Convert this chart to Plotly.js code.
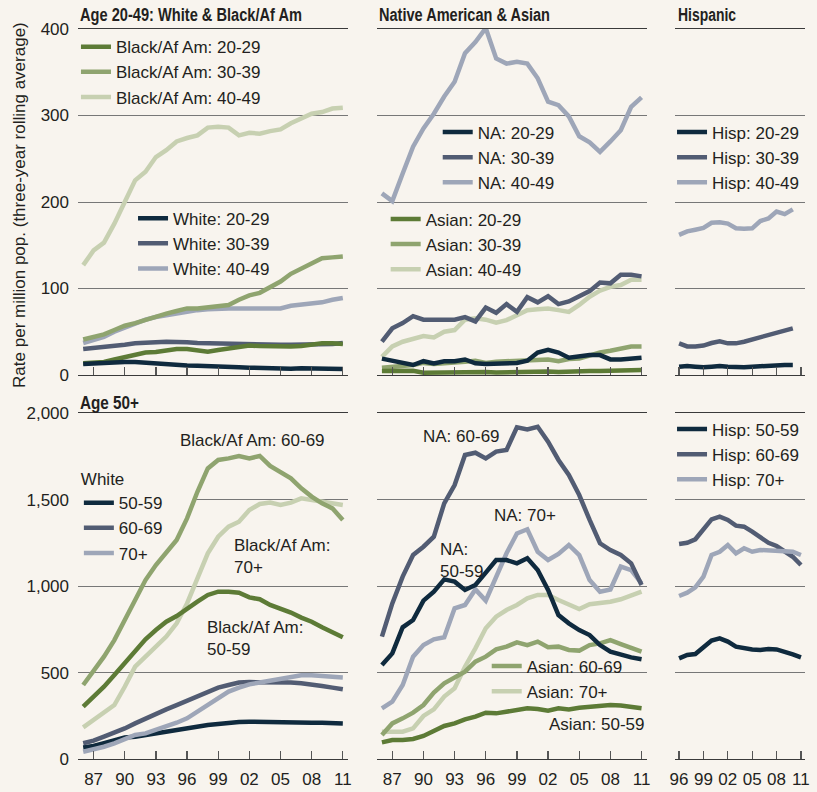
<!DOCTYPE html>
<html>
<head>
<meta charset="utf-8">
<script src="https://cdn.plot.ly/plotly-3.0.1.min.js"></script>
<style>
html,body{margin:0;padding:0;background:#f8f4ee;}
#chart{width:817px;height:792px;}
</style>
</head>
<body>
<div id="chart"></div>
<script>
// ---------- DATA ----------
const years = [1986,1987,1988,1989,1990,1991,1992,1993,1994,1995,1996,1997,1998,1999,2000,2001,2002,2003,2004,2005,2006,2007,2008,2009,2010,2011];
const hispYearsTop = [1996,1997,1998,1999,2000,2001,2002,2003,2004,2005,2006,2007,2008,2009,2010];
const hispYearsBottom = [1996,1997,1998,1999,2000,2001,2002,2003,2004,2005,2006,2007,2008,2009,2010,2011];

const tickYearsMain = [1987,1990,1993,1996,1999,2002,2005,2008,2011];
const tickLabelsMain = ['87','90','93','96','99','02','05','08','11'];
const tickYearsHisp = [1996,1999,2002,2005,2008,2011];
const tickLabelsHisp = ['96','99','02','05','08','11'];

// Age 20-49: White & Black/Af Am
const black2029 = [13.5,14,15,18,21,24,26,26.5,28,30,30,28,27,29,31,33,34,33.5,33,33,33,33.5,35,36.6,36.6,36];
const black3039 = [41,43.5,47,52,57,60,64,67,71,74,77,77,78,79,81,87,92,95,101,108,117,123,130,135,136,137];
const black4049 = [127,144,153,175,200,225,235,252,260,270,274,277,286,287,286,277,280,279,282,284,291,297,302,304,308,309];
const white2029 = [12.7,13.5,14,14.6,15,15,14,13.5,12.7,12,11,10.8,10,9.6,9.2,8.9,8.5,8,7.3,7.3,7.3,7.7,7.7,7.7,7.3,7];
const white3039 = [30,31,32,33.5,35,36.6,37.8,38,38.5,38.5,38,37,36.6,36.6,36,36,35.5,35,35,35,35,35,35,35.5,36,37];
const white4049 = [37,40,44,50,55,60,64,67,69,72,74,75,76,77,77,77,77,76,76,77,80,81,83,84,87,89];

// Native American & Asian, 20-49
const na2029 = [19,16.5,14.6,11.6,16,13.5,16,16,18,13.5,12.7,13.5,14,14,16.5,26,29,26,20,22,23,23,18,18,18.5,20];
const na3039 = [38.5,54,60,68,64,64,64,64,67,62,78,72,82,73,90,84,91,82,85,91,97,107,106,116,116,114];
const na4049 = [210,201,233,264,285,302,322,339,372,385,401,366,360,362,360,343,316,312,299,276,269,258,270,283,310,321];
const asian2029 = [4.6,5,5.8,5,2.7,3,3,3,3.5,3.5,3.5,3,3.5,3.9,4.2,3.9,4.2,3.5,4.2,4.6,4.6,4.6,5,5.4,5.8,5.8];
const asian3039 = [8.5,9.6,10.4,11.6,14,12.7,13.5,14,15.4,16.5,14,15.4,16,16.5,17,18,18,16,18.5,19,23,26,28,31,33,33];
const asian4049 = [21,33,38.5,42,45,43.5,50,52,64,65.5,64,60.5,63.5,69,75,76,77,75,73,81,90.5,97.5,102,104,110,110];

// Hispanic, 20-49 (1996-2010)
const hisp2029 = [9.6,10.4,9.6,8.9,9.6,10.4,9.6,8.9,8.9,9.6,10.4,11,12,11.6,11.6];
const hisp3039 = [36.6,33,33,34,37,39,36.6,36.6,38.5,41,43.5,45.5,48,51,54];
const hisp4049 = [162,166,168,170,176,176.5,175,169.6,169,169.6,178,181,189,186,191.5];

// Age 50+: White & Black/Af Am
const black5059 = [303,361,418,486,553,621,692,746,794,827,872,910,949,968,968,962,935,924,891,872,847,818,794,762,731,704];
const black6069 = [428,505,592,688,804,920,1035,1122,1190,1267,1392,1546,1681,1730,1739,1753,1739,1753,1695,1662,1624,1566,1518,1479,1450,1383];
const black70p = [183,226,264,312,418,534,592,650,708,785,900,1045,1190,1286,1344,1373,1440,1475,1483,1469,1483,1508,1498,1489,1479,1469];
const white5059 = [67,75,91,106,125,129,139,145,158,168,177,183,197,202,210,214,216,214,212,212,212,212,210,210,208,206];
const white6069 = [91,106,129,152,177,206,235,264,287,312,337,364,390,413,428,442,445,445,445,442,442,438,432,422,413,403];
const white70p = [42,56,71,91,116,139,148,168,191,210,235,274,312,351,390,413,432,442,453,461,476,484,484,480,476,472];

// Native American & Asian, 50+
const na5059 = [544,611,762,804,916,968,1039,1026,978,1007,1078,1151,1151,1132,1161,1093,978,833,785,746,717,659,621,602,588,577];
const na6069 = [708,900,1055,1180,1228,1286,1479,1585,1759,1772,1739,1778,1788,1919,1907,1922,1836,1730,1643,1527,1383,1248,1209,1180,1132,1007];
const na70p = [293,332,428,592,659,692,704,872,891,981,916,1055,1190,1305,1329,1199,1151,1186,1238,1180,1035,968,981,1113,1093,1016];
const asian5059 = [96,110,110,116,133,164,191,206,229,245,268,264,274,280,293,289,280,293,287,297,303,312,312,309,303,293];
const asian6069 = [139,206,235,268,312,384,438,472,505,563,592,634,650,675,659,679,646,650,631,627,659,669,688,665,646,621];
const asian70p = [158,158,158,177,249,287,361,409,534,640,756,823,862,891,929,949,949,920,891,868,895,900,910,924,943,968];

// Hispanic, 50+ (1996-2011)
const hisp5059 = [582,602,607,650,685,698,679,650,640,634,631,636,634,621,605,588];
const hisp6069 = [1244,1251,1271,1325,1386,1402,1383,1350,1344,1315,1286,1251,1232,1203,1170,1122];
const hisp70p = [943,962,993,1055,1180,1199,1238,1190,1219,1199,1209,1205,1205,1199,1199,1180];

// ---------- STYLE ----------
const C = {
  navy:'#0f2a3e', slate:'#525c73', lslate:'#9ea6b8',
  dgreen:'#5d7b36', mgreen:'#8fa46f', lgreen:'#c7d0b1'
};
const BG = '#f8f4ee';
const TXT = '#231f20';
const FONT = '"Liberation Sans", Arial, sans-serif';
const LW = 4.5;

function tr(x, y, name, color, xa, ya, legend, show) {
  return {
    type:'scatter', mode:'lines', x:x, y:y, name:name,
    xaxis:xa, yaxis:ya,
    line:{color:color, width:LW},
    legend:legend || 'legend',
    showlegend: show !== false,
    hoverinfo:'skip'
  };
}

const data = [
  // top panel 1
  tr(years, white3039, 'White: 30-39', C.slate, 'x', 'y', 'legend2'),
  tr(years, white4049, 'White: 40-49', C.lslate, 'x', 'y', 'legend2'),
  tr(years, black4049, 'Black/Af Am: 40-49', C.lgreen, 'x', 'y', 'legend'),
  tr(years, black3039, 'Black/Af Am: 30-39', C.mgreen, 'x', 'y', 'legend'),
  tr(years, black2029, 'Black/Af Am: 20-29', C.dgreen, 'x', 'y', 'legend'),
  tr(years, white2029, 'White: 20-29', C.navy, 'x', 'y', 'legend2'),
  // top panel 2
  tr(years, na4049, 'NA: 40-49', C.lslate, 'x2', 'y2', 'legend3'),
  tr(years, asian4049, 'Asian: 40-49', C.lgreen, 'x2', 'y2', 'legend4'),
  tr(years, na3039, 'NA: 30-39', C.slate, 'x2', 'y2', 'legend3'),
  tr(years, asian3039, 'Asian: 30-39', C.mgreen, 'x2', 'y2', 'legend4'),
  tr(years, na2029, 'NA: 20-29', C.navy, 'x2', 'y2', 'legend3'),
  tr(years, asian2029, 'Asian: 20-29', C.dgreen, 'x2', 'y2', 'legend4'),
  // top panel 3
  tr(hispYearsTop, hisp2029, 'Hisp: 20-29', C.navy, 'x3', 'y3', 'legend5'),
  tr(hispYearsTop, hisp3039, 'Hisp: 30-39', C.slate, 'x3', 'y3', 'legend5'),
  tr(hispYearsTop, hisp4049, 'Hisp: 40-49', C.lslate, 'x3', 'y3', 'legend5'),
  // bottom panel 1
  tr(years, black70p, 'Black/Af Am: 70+', C.lgreen, 'x4', 'y4', 'legend', false),
  tr(years, black6069, 'Black/Af Am: 60-69', C.mgreen, 'x4', 'y4', 'legend', false),
  tr(years, black5059, 'Black/Af Am: 50-59', C.dgreen, 'x4', 'y4', 'legend', false),
  tr(years, white5059, '50-59', C.navy, 'x4', 'y4', 'legend6'),
  tr(years, white6069, '60-69', C.slate, 'x4', 'y4', 'legend6'),
  tr(years, white70p, '70+', C.lslate, 'x4', 'y4', 'legend6'),
  // bottom panel 2
  tr(years, asian70p, 'Asian: 70+', C.lgreen, 'x5', 'y5', 'legend7'),
  tr(years, asian6069, 'Asian: 60-69', C.mgreen, 'x5', 'y5', 'legend7'),
  tr(years, asian5059, 'Asian: 50-59', C.dgreen, 'x5', 'y5', 'legend', false),
  tr(years, na70p, 'NA: 70+', C.lslate, 'x5', 'y5', 'legend', false),
  tr(years, na6069, 'NA: 60-69', C.slate, 'x5', 'y5', 'legend', false),
  tr(years, na5059, 'NA: 50-59', C.navy, 'x5', 'y5', 'legend', false),
  // bottom panel 3
  tr(hispYearsBottom, hisp5059, 'Hisp: 50-59', C.navy, 'x6', 'y6', 'legend8'),
  tr(hispYearsBottom, hisp6069, 'Hisp: 60-69', C.slate, 'x6', 'y6', 'legend8'),
  tr(hispYearsBottom, hisp70p, 'Hisp: 70+', C.lslate, 'x6', 'y6', 'legend8')
];

// legend entry order follows the reference
const rankMap = {
  'Black/Af Am: 20-29':1,'Black/Af Am: 30-39':2,'Black/Af Am: 40-49':3,
  'White: 20-29':1,'White: 30-39':2,'White: 40-49':3,
  'NA: 20-29':1,'NA: 30-39':2,'NA: 40-49':3,
  'Asian: 20-29':1,'Asian: 30-39':2,'Asian: 40-49':3,
  'Hisp: 20-29':1,'Hisp: 30-39':2,'Hisp: 40-49':3,
  '50-59':1,'60-69':2,'70+':3,
  'Asian: 60-69':1,'Asian: 70+':2,
  'Hisp: 50-59':1,'Hisp: 60-69':2,'Hisp: 70+':3
};
data.forEach(d => { if (rankMap[d.name]) d.legendrank = rankMap[d.name]; });

// ---------- LAYOUT ----------
const DX1 = [0, 0.3714], DX2 = [0.4109, 0.7823], DX3 = [0.8212, 1];
const DYT = [0.526, 1], DYB = [0, 0.4736];

function xax(domain, anchor, range, tv, tt, labels) {
  return {
    domain:domain, anchor:anchor, range:range,
    tickmode:'array', tickvals:tv, ticktext:tt,
    showticklabels:labels, ticks:'inside', ticklen:8, tickwidth:1.3, tickcolor:'#555',
    showline:true, mirror:true, linecolor:'#3a3a3a', linewidth:1.3,
    showgrid:false, zeroline:false, fixedrange:true,
    tickfont:{family:FONT, size:17, color:TXT}, ticklabelstandoff:4
  };
}
function yax(domain, anchor, range, dtick, labels) {
  return {
    domain:domain, anchor:anchor, range:range, dtick:dtick, tick0:0,
    showticklabels:labels, ticks:'', showline:false, zeroline:false,
    showgrid:true, gridcolor:'#777', gridwidth:1,
    separatethousands:true, fixedrange:true,
    tickfont:{family:FONT, size:17, color:TXT}, ticklabelstandoff:8
  };
}
function leg(x, y, extra) {
  return Object.assign({
    x:x, y:y, xanchor:'left', yanchor:'top', orientation:'v',
    bgcolor:'rgba(0,0,0,0)', borderwidth:0,
    font:{family:FONT, size:17, color:TXT},
    traceorder:'normal', itemclick:false, itemdoubleclick:false
  }, extra || {});
}
function ann(text, x, y, xref, yref, xanchor, extra) {
  return Object.assign({
    text:text, x:x, y:y, xref:xref, yref:yref, xanchor:xanchor, yanchor:'middle',
    showarrow:false, align:'left', font:{family:FONT, size:17, color:TXT}
  }, extra || {});
}
const TITLEFONT = {family:FONT, size:18, color:TXT};

const layout = {
  width:817, height:792,
  margin:{l:78, r:12, t:29, b:33},
  paper_bgcolor:BG, plot_bgcolor:BG,
  font:{family:FONT, color:TXT},
  xaxis: xax(DX1,'y',[1985.5,2011.5],tickYearsMain,tickLabelsMain,false),
  xaxis2:xax(DX2,'y2',[1985.5,2011.5],tickYearsMain,tickLabelsMain,false),
  xaxis3:xax(DX3,'y3',[1995.5,2011.5],tickYearsHisp,tickLabelsHisp,false),
  xaxis4:xax(DX1,'y4',[1985.5,2011.5],tickYearsMain,tickLabelsMain,true),
  xaxis5:xax(DX2,'y5',[1985.5,2011.5],tickYearsMain,tickLabelsMain,true),
  xaxis6:xax(DX3,'y6',[1995.5,2011.5],tickYearsHisp,tickLabelsHisp,true),
  yaxis: yax(DYT,'x',[0,400],100,true),
  yaxis2:yax(DYT,'x2',[0,400],100,false),
  yaxis3:yax(DYT,'x3',[0,400],100,false),
  yaxis4:yax(DYB,'x4',[0,2000],500,true),
  yaxis5:yax(DYB,'x5',[0,2000],500,false),
  yaxis6:yax(DYB,'x6',[0,2000],500,false),
  legend:  leg(-0.0028, 0.9998),
  legend2: leg(0.0757, 0.7648),
  legend3: leg(0.4948, 0.8828),
  legend4: leg(0.4232, 0.7638),
  legend5: leg(0.8171, 0.8828),
  legend6: leg(0.0012, 0.4054, {title:{text:'White', side:'top', font:{family:FONT, size:17, color:TXT}}}),
  legend7: leg(0.5622, 0.1513),
  legend8: leg(0.8171, 0.476),
  shapes:[
    // the White legend box hides the 1,500 grid line behind it
    {type:'rect', xref:'x4', yref:'y4', x0:1985.5, x1:1996.8, y0:1450, y1:1550,
     fillcolor:BG, line:{width:0}, layer:'between'}
  ],
  annotations:[
    ann('<b>Age 20-49: White &amp; Black/Af Am</b>', 0, 1.019, 'paper', 'paper', 'left', {font:TITLEFONT}),
    ann('<b>Native American &amp; Asian</b>', 0.4113, 1.019, 'paper', 'paper', 'left', {font:TITLEFONT}),
    ann('<b>Hispanic</b>', 0.8226, 1.019, 'paper', 'paper', 'left', {font:TITLEFONT}),
    ann('<b>Age 50+</b>', 0, 0.4877, 'paper', 'paper', 'left', {font:TITLEFONT}),
    ann('Rate per million pop. (three-year rolling average)', -0.0798, 0.759, 'paper', 'paper', 'center', {textangle:-90, font:{family:FONT, size:17, color:TXT}}),
    ann('Black/Af Am: 60-69', 2002.35, 1845, 'x4', 'y4', 'center'),
    ann('Black/Af Am:<br>70+', 2000.34, 1174, 'x4', 'y4', 'left'),
    ann('Black/Af Am:<br>50-59', 1997.75, 697, 'x4', 'y4', 'left'),
    ann('NA: 60-69', 1993.63, 1865, 'x5', 'y5', 'center'),
    ann('NA: 70+', 1999.74, 1406, 'x5', 'y5', 'center'),
    ann('NA:<br>50-59', 1991.42, 1150, 'x5', 'y5', 'left'),
    ann('Asian: 50-59', 2006.63, 197, 'x5', 'y5', 'center')
  ]
};

// panel titles are set in a condensed bold face in the reference
const titleWidths = {
  'Age 20-49: White & Black/Af Am':222,
  'Native American & Asian':171,
  'Hispanic':58,
  'Age 50+':59
};

Plotly.newPlot('chart', data, layout, {staticPlot:true, displayModeBar:false}).then(gd => {
  gd.querySelectorAll('text.annotation-text').forEach(t => {
    const w = titleWidths[t.textContent];
    if (w) {
      t.setAttribute('textLength', w);
      t.setAttribute('lengthAdjust', 'spacingAndGlyphs');
    }
  });
});
</script>
</body>
</html>
